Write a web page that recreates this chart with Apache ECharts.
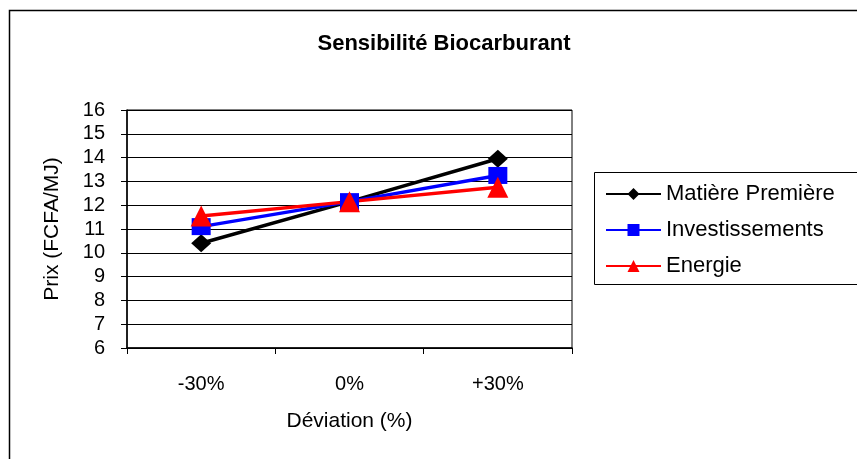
<!DOCTYPE html>
<html>
<head>
<meta charset="utf-8">
<script src="https://cdn.jsdelivr.net/npm/echarts@6/dist/echarts.min.js"></script>
<style>
  html, body { margin: 0; padding: 0; background: #fff; }
  #chart { width: 857px; height: 459px; }
</style>
</head>
<body>
<div id="chart"></div>
<script>
// Price sensitivity of the biofuel to a ±30% deviation of each cost driver
const categories = ['-30%', '0%', '+30%'];
const matierePremiere = [10.4, 12.15, 13.95];
const investissements = [11.1, 12.15, 13.25];
const energie = [11.55, 12.15, 12.75];
const yTicks = { min: 6, max: 16, interval: 1 };

const font = 'Liberation Sans, Arial, sans-serif';
const chart = echarts.init(document.getElementById('chart'), null, { renderer: 'canvas' });

function line(name, data, color, symbol, size) {
  return {
    name: name,
    type: 'line',
    data: data,
    symbol: symbol,
    symbolSize: size,
    lineStyle: { color: color, width: 3.5 },
    itemStyle: { color: color },
    emphasis: { disabled: true },
    animation: false
  };
}

chart.setOption({
  backgroundColor: '#fff',
  animation: false,
  title: {
    text: 'Sensibilité Biocarburant',
    left: 439,
    textAlign: 'center',
    top: 28,
    textStyle: { fontFamily: font, fontSize: 22, fontWeight: 'bold', color: '#000' }
  },
  graphic: [
    { type: 'rect', shape: { x: 9.5, y: 10.5, width: 900, height: 500 },
      style: { fill: null, stroke: '#000', lineWidth: 1.5 }, silent: true },
    { type: 'rect', shape: { x: 594.5, y: 172.5, width: 300, height: 112 },
      style: { fill: '#fff', stroke: '#000', lineWidth: 1 }, silent: true, z: 0 }
  ],
  legend: {
    orient: 'vertical',
    left: 600,
    top: 178,
    itemWidth: 55,
    itemHeight: 15,
    itemGap: 14,
    z: 10,
    textStyle: { fontFamily: font, fontSize: 22, color: '#000', padding: [0, 0, 0, 0] },
    data: ['Matière Première', 'Investissements', 'Energie']
  },
  grid: {
    left: 127, right: 285, top: 110, bottom: 111,
    show: true, borderColor: '#000', borderWidth: 1, backgroundColor: 'transparent'
  },
  xAxis: {
    type: 'category',
    data: categories,
    boundaryGap: true,
    name: 'Déviation (%)',
    nameLocation: 'middle',
    nameGap: 63,
    nameTextStyle: { fontFamily: font, fontSize: 21, color: '#000' },
    axisLine: { lineStyle: { color: '#000', width: 1.5 } },
    axisTick: { show: true, inside: false, length: 6, alignWithLabel: false, lineStyle: { color: '#000' } },
    axisLabel: { fontFamily: font, fontSize: 20, color: '#000', margin: 26 },
    splitLine: { show: false }
  },
  yAxis: {
    type: 'value',
    min: yTicks.min,
    max: yTicks.max,
    interval: yTicks.interval,
    name: 'Prix (FCFA/MJ)',
    nameLocation: 'middle',
    nameGap: 64,
    nameRotate: 90,
    nameTextStyle: { fontFamily: font, fontSize: 21, color: '#000' },
    axisLine: { show: true, lineStyle: { color: '#000', width: 1.5 } },
    axisTick: { show: true, inside: false, length: 6, lineStyle: { color: '#000' } },
    axisLabel: { fontFamily: font, fontSize: 20, color: '#000', margin: 22 },
    splitLine: { show: true, lineStyle: { color: '#000', width: 1 } }
  },
  series: [
    line('Matière Première', matierePremiere, '#000000', 'diamond', [20, 18]),
    line('Investissements', investissements, '#0000ff', 'rect', [19, 17]),
    line('Energie', energie, '#ff0000', 'triangle', 21)
  ]
});
</script>
</body>
</html>
